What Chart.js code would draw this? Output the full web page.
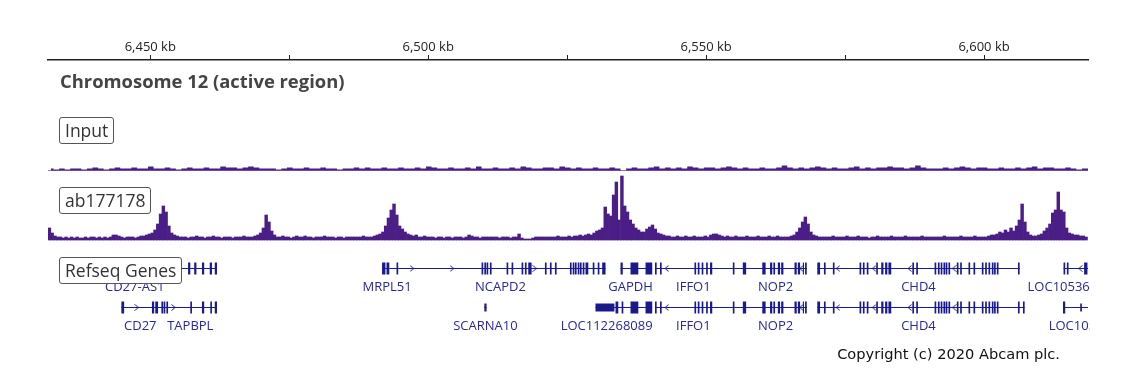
<!DOCTYPE html>
<html>
<head>
<meta charset="utf-8">
<script src="https://cdn.jsdelivr.net/npm/chart.js@4"></script>
<style>
    body { margin: 0; background: #fff; }
    #wrap { position: relative; width: 1140px; height: 373px; overflow: hidden; }
    #tracks { position: absolute; left: 0; top: 0; }
    .title { position: absolute; left: 60px; top: 68px; font: bold 18.4px "Open Sans"; color: #444; white-space: nowrap; }
    .tag {
        position: absolute; left: 59px; box-sizing: border-box; height: 27px;
        border: 1px solid #555; border-radius: 3px; background: #fff;
        font: 17.5px "Open Sans"; color: #333; line-height: 25px; padding: 0 5px; white-space: nowrap;
    }
    .copy { position: absolute; right: 80px; top: 345px; font: 14.6px "DejaVu Sans"; color: #111; white-space: nowrap; }
</style>
</head>
<body>
<div id="wrap">
    <canvas id="tracks" width="1140" height="373"></canvas>
    <div class="title">Chromosome 12 (active region)</div>
    <div class="tag" style="top:117px">Input</div>
    <div class="tag" style="top:187px">ab177178</div>
    <div class="tag" style="top:257px">Refseq Genes</div>
    <div class="copy">Copyright (c) 2020 Abcam plc.</div>
</div>
<script>
// visible window, kb
const viewStart = 6431.6;
const viewEnd = 6618.7;

// top ruler
const tickKb = [6450, 6475, 6500, 6525, 6550, 6575, 6600];
const tickText = ["6,450 kb", "", "6,500 kb", "", "6,550 kb", "", "6,600 kb"];

// ab177178 signal, 0.5 kb bins from viewStart
const chipStep = 0.5;
const chipValues = [
    12, 7, 4, 3, 3, 2, 3, 2, 3, 2, 3, 2, 2, 3, 2, 3, 3, 2, 3, 2,
    3, 2, 3, 5, 5, 4, 3, 2, 3, 3, 3, 2, 3, 4, 4, 5, 6, 7, 10, 16,
    26, 34, 28, 14, 7, 5, 4, 3, 3, 3, 2, 3, 3, 4, 3, 3, 2, 3, 3, 4,
    3, 3, 2, 3, 3, 3, 2, 3, 3, 3, 4, 3, 3, 3, 4, 5, 7, 12, 25, 18,
    9, 5, 3, 3, 4, 3, 3, 2, 3, 4, 3, 3, 4, 3, 3, 2, 3, 3, 3, 4,
    3, 3, 3, 2, 3, 3, 2, 3, 3, 3, 3, 3, 3, 4, 3, 3, 3, 4, 5, 6,
    8, 14, 22, 30, 36, 25, 14, 11, 8, 6, 5, 4, 5, 3, 3, 4, 3, 3, 3, 2,
    3, 3, 2, 3, 3, 2, 3, 3, 3, 2, 3, 5, 4, 3, 3, 2, 3, 3, 3, 3,
    3, 3, 2, 3, 3, 3, 2, 3, 3, 6, 2, 1, 1, 1, 2, 3, 3, 3, 3, 3,
    3, 3, 3, 4, 3, 3, 3, 4, 3, 4, 4, 5, 4, 5, 6, 5, 7, 9, 10, 12,
    33, 26, 24, 45, 58, 20, 64, 34, 28, 20, 16, 12, 10, 8, 8, 11, 13, 15, 11, 7,
    6, 5, 4, 4, 3, 3, 4, 3, 3, 4, 3, 3, 4, 3, 3, 3, 4, 3, 5, 6,
    6, 5, 4, 3, 4, 3, 3, 4, 3, 3, 3, 4, 3, 3, 3, 4, 3, 3, 3, 4,
    3, 3, 4, 3, 3, 3, 3, 4, 5, 8, 12, 18, 23, 16, 8, 5, 4, 3, 3, 3,
    3, 3, 4, 3, 3, 3, 3, 4, 3, 3, 3, 4, 3, 3, 3, 2, 3, 3, 4, 3,
    3, 3, 3, 4, 3, 3, 3, 3, 4, 3, 3, 3, 3, 3, 4, 3, 3, 3, 3, 3,
    3, 3, 4, 3, 3, 3, 3, 3, 4, 3, 3, 3, 3, 4, 3, 3, 3, 3, 4, 5,
    5, 6, 8, 7, 10, 8, 12, 9, 14, 20, 36, 18, 8, 5, 4, 4, 5, 6, 9, 12,
    16, 27, 30, 48, 30, 28, 12, 7, 6, 5, 5, 4, 4, 3
];

// input signal, 1 kb bins from viewStart
const inputStep = 1;
const inputValues = [
    2, 1, 2, 1, 2, 2, 1, 2, 3, 2, 1, 2, 3, 2, 2, 3, 2, 2, 4, 2,
    2, 3, 2, 1, 2, 3, 2, 2, 3, 2, 2, 4, 3, 3, 2, 3, 4, 3, 2, 2,
    2, 1, 2, 3, 2, 2, 3, 2, 2, 3, 2, 2, 1, 2, 2, 3, 2, 3, 2, 2,
    3, 2, 2, 3, 2, 2, 3, 2, 4, 3, 2, 2, 3, 2, 2, 3, 2, 4, 2, 2,
    3, 2, 2, 3, 2, 4, 3, 2, 2, 3, 3, 2, 4, 3, 2, 3, 2, 2, 3, 2,
    2, 3, 2, 0, 2, 3, 2, 2, 3, 4, 2, 3, 2, 3, 2, 4, 3, 2, 3, 3,
    2, 3, 4, 3, 2, 3, 2, 2, 3, 2, 2, 3, 5, 3, 2, 3, 2, 3, 4, 3,
    2, 3, 2, 2, 3, 4, 2, 3, 2, 3, 3, 4, 3, 3, 2, 3, 5, 3, 2, 2,
    2, 3, 2, 3, 4, 3, 2, 3, 3, 2, 2, 3, 2, 2, 3, 2, 3, 4, 2, 3,
    3, 2, 2, 3, 2, 1, 2, 2
];

// refseq genes (kb)
const iffo1Exons = [[6540.8, 6541.1], [6541.7, 6542.0], [6547.9, 6548.2], [6548.5, 6548.8], [6549.2, 6549.5],
    [6550.0, 6550.3], [6550.7, 6551.1], [6554.8, 6555.1]];
const nop2Exons = [[6556.6, 6557.2], [6560.1, 6560.7], [6561.5, 6561.9], [6562.1, 6562.4], [6562.9, 6563.3],
    [6563.5, 6563.9], [6565.9, 6566.3], [6566.5, 6566.9], [6567.4, 6567.6], [6567.8, 6568.1]];
const chd4Exons = [[6570.0, 6570.5], [6571.2, 6571.5], [6572.8, 6573.1], [6577.6, 6577.9], [6578.2, 6578.5],
    [6578.9, 6579.2], [6580.6, 6580.9], [6581.5, 6581.9], [6582.2, 6582.6], [6582.8, 6583.3], [6587.1, 6587.4],
    [6587.8, 6588.1], [6591.1, 6591.4], [6591.7, 6592.0], [6592.2, 6592.5], [6592.7, 6593.0], [6593.1, 6593.4],
    [6593.6, 6593.9], [6595.1, 6595.4], [6595.7, 6596.0], [6597.2, 6597.5], [6598.1, 6598.4], [6599.6, 6599.9],
    [6600.2, 6600.5], [6600.8, 6601.1], [6601.4, 6601.7], [6601.8, 6602.1], [6602.3, 6602.6], [6606.1, 6606.4]];

const geneNames = ["CD27-AS1", "MRPL51", "NCAPD2", "GAPDH", "IFFO1", "NOP2", "CHD4", "LOC105369605",
    "CD27", "TAPBPL", "SCARNA10", "LOC112268089", "IFFO1", "NOP2", "CHD4", "LOC105369605"];
const geneRows = [1, 1, 1, 1, 1, 1, 1, 1, 2, 2, 2, 2, 2, 2, 2, 2];
const geneStrand = ["+", "-", "+", "+", "-", "-", "-", "-", "+", "+", "+", "-", "-", "-", "-", "-"];
const geneStart = [6433.8, 6491.7, 6493.0, 6534.6, 6540.8, 6555.1, 6570.0, 6614.3,
    6444.8, 6451.4, 6510.1, 6530.1, 6540.8, 6555.1, 6570.0, 6614.2];
const geneEnd = [6462.0, 6493.0, 6531.9, 6540.3, 6555.1, 6568.1, 6606.4, 6625.0,
    6451.4, 6462.0, 6510.5, 6540.3, 6555.1, 6568.1, 6607.3, 6625.0];
const geneLabelAt = [6447.2, 6492.6, 6513.0, 6536.4, 6547.7, 6562.5, 6588.2, 6616.1,
    6448.2, 6457.2, 6510.3, 6532.1, 6547.7, 6562.5, 6588.2, 6619.9];
const geneExons = [
    [[6456.8, 6457.2], [6457.9, 6458.3], [6459.3, 6459.7], [6460.7, 6461.1], [6461.6, 6462.0]],
    [[6491.7, 6492.3], [6492.5, 6493.0]],
    [[6494.3, 6494.6], [6509.6, 6509.9], [6510.1, 6510.4], [6510.5, 6510.8], [6511.1, 6511.4], [6514.1, 6514.4],
        [6515.0, 6515.3], [6516.8, 6517.1], [6517.4, 6517.7], [6518.0, 6518.6], [6521.0, 6521.3], [6521.9, 6522.2],
        [6522.8, 6523.1], [6525.5, 6525.8], [6526.0, 6526.3], [6526.4, 6526.7], [6526.9, 6527.2], [6527.3, 6527.6],
        [6527.8, 6528.1], [6528.3, 6528.8], [6529.6, 6529.9], [6530.5, 6530.8], [6531.3, 6531.9]],
    [[6534.6, 6535.0], [6536.4, 6537.8], [6539.1, 6540.3]],
    iffo1Exons,
    nop2Exons,
    chd4Exons,
    [[6614.3, 6614.6], [6614.9, 6615.2], [6618.0, 6618.6]],
    [[6444.8, 6445.3], [6450.3, 6450.7], [6450.9, 6451.4]],
    [[6452.0, 6452.3], [6452.4, 6452.7], [6452.9, 6453.2], [6457.2, 6457.5], [6459.3, 6459.7], [6460.8, 6461.1], [6461.6, 6462.0]],
    [],
    [[6533.7, 6534.2], [6534.8, 6535.1], [6536.4, 6537.8], [6539.1, 6540.3]],
    iffo1Exons,
    nop2Exons,
    chd4Exons.concat([[6607.0, 6607.3]]),
    [[6614.2, 6614.6]]
];
const geneUtrs = [[], [], [], [], [], [], [], [], [], [], [[6510.1, 6510.5]], [[6530.1, 6533.5]], [], [], [], [[6617.3, 6617.6]]];
const geneArrows = [[], [], [6497.1, 6504.3, 6519.2], [], [6542.9], [6567.1], [6573.7, 6580.2, 6586.6, 6594.6], [6617.3],
    [6447.6], [6454.2], [], [], [6542.9], [6567.1], [6573.7, 6580.2, 6586.6, 6594.6], []];

const chipColor = "#4b1e87";
const geneColor = "#1a1a8e";
const geneTextColor = "#28289a";

//bins -> points at bin centres
function binPoints(values, step) {
    return values.map((v, i) => ({ x: viewStart + (i + 0.5) * step, y: v }));
}

//one line piece per [start,end], broken by null
function pieces(lists, withSpan) {
    let pts = [];
    geneNames.forEach((n, i) => {
        let row = geneRows[i];
        let list = withSpan ? [[geneStart[i], geneEnd[i]]] : lists[i];
        list.forEach(p => {
            pts.push({ x: p[0], y: row }, { x: p[1], y: row }, { x: p[1], y: null });
        });
    });
    return pts;
}

function arrowPoints(strand) {
    let pts = [];
    geneNames.forEach((n, i) => {
        if (geneStrand[i] !== strand) return;
        geneArrows[i].forEach(a => pts.push({ x: a, y: geneRows[i] }));
    });
    return pts;
}

function chevron(dir) {
    let c = document.createElement("canvas");
    c.width = 5;
    c.height = 7;
    let g = c.getContext("2d");
    g.strokeStyle = geneColor;
    g.lineWidth = 1;
    g.beginPath();
    if (dir > 0) {
        g.moveTo(0.5, 0.5); g.lineTo(4, 3.5); g.lineTo(0.5, 6.5);
    } else {
        g.moveTo(4.5, 0.5); g.lineTo(1, 3.5); g.lineTo(4.5, 6.5);
    }
    g.stroke();
    return c;
}

//gene names under each model
const geneLabels = {
    id: "geneLabels",
    afterDatasetsDraw(chart) {
        let ctx = chart.ctx;
        let area = chart.chartArea;
        let sx = chart.scales.x;
        let sy = chart.scales.yG;
        ctx.save();
        ctx.beginPath();
        ctx.rect(area.left, area.top, area.right - area.left + 2, area.bottom - area.top);
        ctx.clip();
        ctx.font = '13px "Open Sans"';
        ctx.fillStyle = geneTextColor;
        ctx.textAlign = "center";
        ctx.textBaseline = "middle";
        geneNames.forEach((n, i) => {
            ctx.fillText(n, sx.getPixelForValue(geneLabelAt[i]), Math.round(sy.getPixelForValue(geneRows[i])) + 19);
        });
        ctx.restore();
    }
};

let ctx1 = document.getElementById("tracks");
let chart = new Chart(ctx1, {
    type: "bar",
    data: {
        datasets: [
            {
                type: "bar",
                label: "ab177178",
                data: binPoints(chipValues, chipStep),
                yAxisID: "yC",
                backgroundColor: chipColor,
                borderWidth: 0,
                barPercentage: 1,
                categoryPercentage: 1,
                grouped: false,
            },
            {
                type: "line",
                label: "Input",
                data: binPoints(inputValues, inputStep),
                yAxisID: "yI",
                stepped: "middle",
                fill: "origin",
                backgroundColor: chipColor,
                borderWidth: 0,
                pointRadius: 0,
                order: 1,
            },
            {
                type: "line",
                label: "Input baseline",
                data: [{ x: viewStart, y: 0 }, { x: viewEnd, y: 0 }],
                yAxisID: "yI",
                borderColor: "#8c82a8",
                borderWidth: 1,
                pointRadius: 0,
                order: 2,
            },
            {
                type: "line",
                label: "introns",
                data: pieces(null, true),
                yAxisID: "yG",
                borderColor: geneColor,
                borderWidth: 1,
                pointRadius: 0,
                clip: 0,
            },
            {
                type: "line",
                label: "exons",
                data: pieces(geneExons, false),
                yAxisID: "yG",
                borderColor: geneColor,
                borderWidth: 12,
                pointRadius: 0,
                clip: 0,
            },
            {
                type: "line",
                label: "utr",
                data: pieces(geneUtrs, false),
                yAxisID: "yG",
                borderColor: geneColor,
                borderWidth: 8,
                pointRadius: 0,
                clip: 0,
            },
            {
                type: "scatter",
                label: "plus",
                data: arrowPoints("+"),
                yAxisID: "yG",
                pointStyle: chevron(1),
                clip: 0,
            },
            {
                type: "scatter",
                label: "minus",
                data: arrowPoints("-"),
                yAxisID: "yG",
                pointStyle: chevron(-1),
                clip: 0,
            },
        ],
    },
    options: {
        responsive: false,
        animation: false,
        events: [],
        layout: { padding: { left: 48, right: 52, top: 20, bottom: 33 } },
        scales: {
            x: {
                type: "linear",
                position: "top",
                offset: false,
                min: viewStart,
                max: viewEnd,
                afterBuildTicks: (s) => { s.ticks = tickKb.map(v => ({ value: v })); },
                afterFit: (s) => { s.height = 40; },
                ticks: {
                    callback: (v) => tickText[tickKb.indexOf(v)],
                    font: { family: "Open Sans", size: 13 },
                    color: "#222",
                    padding: 0,
                    maxRotation: 0,
                    autoSkip: false,
                },
                grid: { offset: false, drawOnChartArea: false, drawTicks: true, tickLength: 5, color: "#222", lineWidth: 1 },
                border: { display: true, color: "#222", width: 1.5 },
            },
            yC: { display: false, min: -100, max: 180 },
            yI: { display: false, min: -169.5, max: 110.5 },
            yG: { display: false, reverse: true, min: -4.34615, max: 2.83334 },
        },
        plugins: {
            legend: { display: false },
            tooltip: { enabled: false },
        },
    },
    plugins: [geneLabels],
});
</script>
</body>
</html>
